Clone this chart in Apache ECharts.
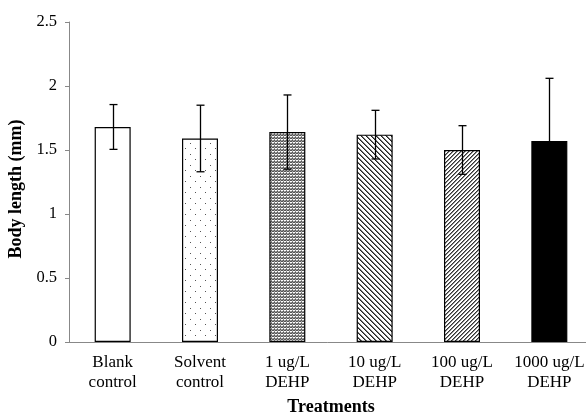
<!DOCTYPE html>
<html><head><meta charset="utf-8">
<script src="https://cdn.jsdelivr.net/npm/echarts@6/dist/echarts.min.js"></script>
<style>html,body{margin:0;padding:0;background:#fff}#c{width:586px;height:414px}</style>
</head><body><div id="c"></div>
<script>
const categories = ['Blank\ncontrol', 'Solvent\ncontrol', '1 ug/L\nDEHP', '10 ug/L\nDEHP', '100 ug/L\nDEHP', '1000 ug/L\nDEHP'];
const means = [1.68, 1.59, 1.64, 1.62, 1.50, 1.57];
const sds = [0.175, 0.26, 0.29, 0.19, 0.19, 0.49];
const yTicks = [0, 0.5, 1, 1.5, 2, 2.5];

function mk(w, h, draw) {
  const c = document.createElement('canvas');
  c.width = w; c.height = h;
  const g = c.getContext('2d');
  g.fillStyle = '#fff'; g.fillRect(0, 0, w, h);
  draw(g);
  return { image: c, repeat: 'repeat' };
}
const patWhite = '#ffffff';
const patSparse = mk(10, 11, g => { g.fillStyle = '#555'; g.fillRect(0, 0, 1, 1); g.fillRect(5, 5, 1, 1); });
const patDense = mk(3, 3, g => {
  g.fillStyle = '#555'; g.fillRect(0, 0, 1, 1); g.fillRect(2, 0, 1, 1); g.fillRect(1, 2, 1, 1);
  g.fillStyle = '#888'; g.fillRect(1, 1, 1, 1); g.fillRect(0, 2, 1, 1);
  g.fillStyle = '#aaa'; g.fillRect(1, 0, 1, 1); g.fillRect(2, 2, 1, 1);
});
const patBack = mk(5, 5, g => { for (let i = 0; i < 5; i++) { g.fillStyle = '#222'; g.fillRect(i, i, 1, 1); g.fillStyle = '#777'; g.fillRect((i + 1) % 5, i, 1, 1); } });
const patFwd = mk(4, 4, g => { for (let i = 0; i < 4; i++) { g.fillStyle = '#333'; g.fillRect(3 - i, i, 1, 1); g.fillStyle = '#888'; g.fillRect((4 - i) % 4, i, 1, 1); } });
const fills = [patWhite, patSparse, patDense, patBack, patFwd, '#000000'];

const serif = '"Liberation Serif","Times New Roman",serif';
const chart = echarts.init(document.getElementById('c'));
chart.setOption({
  animation: false,
  grid: { left: 69, top: 22, width: 524, height: 320, containLabel: false, outerBoundsMode: 'none' },
  xAxis: {
    type: 'category', data: categories,
    axisLine: { lineStyle: { color: '#888', width: 1 } },
    axisTick: { show: false },
    axisLabel: { color: '#000', fontFamily: serif, fontSize: 17, lineHeight: 20, margin: 11, interval: 0 },
    name: 'Treatments', nameLocation: 'middle', nameGap: 55,
    nameTextStyle: { color: '#000', fontFamily: serif, fontSize: 18, fontWeight: 'bold' }
  },
  yAxis: {
    type: 'value', min: 0, max: 2.5, interval: 0.5,
    axisLine: { show: true, lineStyle: { color: '#888', width: 1 } },
    axisTick: { show: true, length: 4, lineStyle: { color: '#888' } },
    splitLine: { show: false },
    axisLabel: { color: '#000', fontFamily: serif, fontSize: 16.5, margin: 12,
      formatter: v => { const t = yTicks.find(x => Math.abs(x - v) < 1e-9); return t === undefined ? '' : String(t); } },
    name: 'Body length (mm)', nameLocation: 'middle', nameGap: 40,
    nameTextStyle: { color: '#000', fontFamily: serif, fontSize: 18, fontWeight: 'bold', padding: [0, 14, 0, 0] }
  },
  series: [
    {
      type: 'bar', barWidth: 36,
      data: means.map((v, i) => ({ value: v, itemStyle: { color: fills[i], borderColor: '#000', borderWidth: 1.2 } }))
    },
    {
      type: 'custom', z: 5,
      data: means.map((m, i) => [i, m - sds[i], m + sds[i]]),
      renderItem: (params, api) => {
        const lo = api.coord([api.value(0), api.value(1)]);
        const hi = api.coord([api.value(0), api.value(2)]);
        const x = Math.round(hi[0]) + 0.5, hw = 4;
        const st = { stroke: '#000', lineWidth: 1.3 };
        return { type: 'group', children: [
          { type: 'line', shape: { x1: x, y1: hi[1], x2: x, y2: lo[1] }, style: st },
          { type: 'line', shape: { x1: x - hw, y1: hi[1], x2: x + hw, y2: hi[1] }, style: st },
          { type: 'line', shape: { x1: x - hw, y1: lo[1], x2: x + hw, y2: lo[1] }, style: st }
        ] };
      }
    }
  ]
});
</script></body></html>
